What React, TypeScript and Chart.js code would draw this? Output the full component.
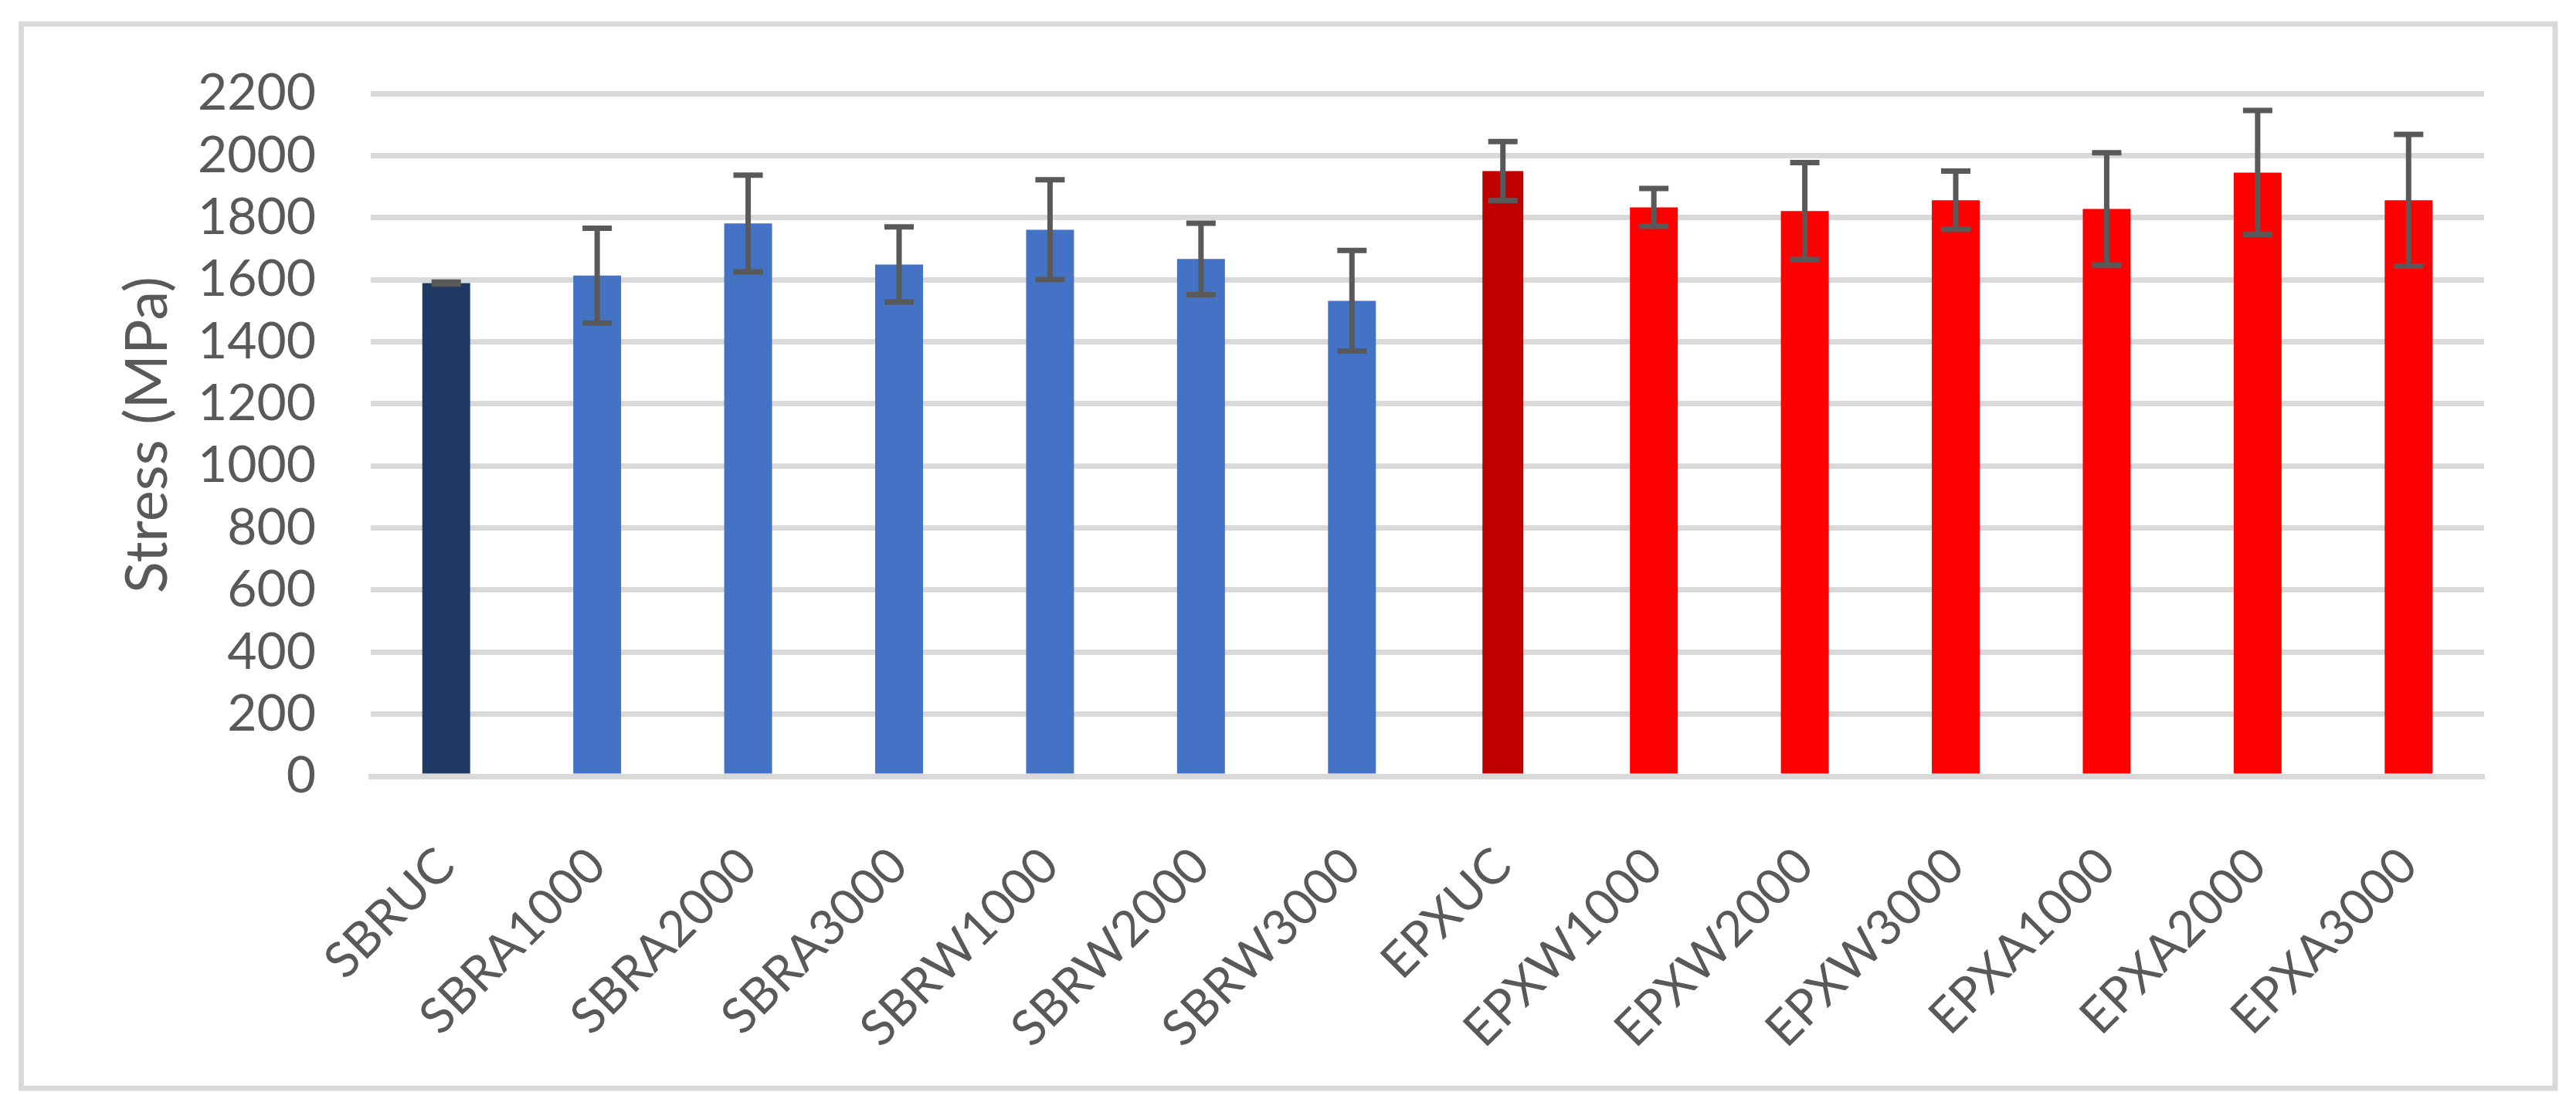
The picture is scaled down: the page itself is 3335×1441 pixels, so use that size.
import { useEffect, useRef } from "react"
import { Chart, registerables, type Plugin } from "chart.js"

Chart.register(...registerables)

const categories = [
  "SBRUC", "SBRA1000", "SBRA2000", "SBRA3000", "SBRW1000", "SBRW2000", "SBRW3000",
  "EPXUC", "EPXW1000", "EPXW2000", "EPXW3000", "EPXA1000", "EPXA2000", "EPXA3000",
]
const stress = [1589, 1613, 1781, 1649, 1761, 1667, 1532, 1950, 1833, 1821, 1856, 1828, 1945, 1856]
const stressError = [3, 153, 156, 121, 161, 115, 162, 95, 61, 156, 94, 181, 200, 212]
const barColors = [
  "#203864", "#4472C4", "#4472C4", "#4472C4", "#4472C4", "#4472C4", "#4472C4",
  "#C00000", "#FF0000", "#FF0000", "#FF0000", "#FF0000", "#FF0000", "#FF0000",
]
const yTickValues = [0, 200, 400, 600, 800, 1000, 1200, 1400, 1600, 1800, 2000, 2200]

// EPXUC is drawn a little narrower than the rest
const narrowIndex = 7

const W = 3335
const H = 1441
const TEXT = "#595959"
const GRID = "#D9D9D9"
const FONT = "Lato, 'Noto Sans', sans-serif"

const frame: Plugin<"bar"> = {
  id: "frame",
  beforeDraw(chart) {
    const { ctx } = chart
    ctx.save()
    ctx.fillStyle = "#FFFFFF"
    ctx.fillRect(0, 0, W, H)
    ctx.strokeStyle = GRID
    ctx.lineWidth = 7
    ctx.strokeRect(27.5, 31, 3308 - 27.5, 1409 - 31)
    ctx.restore()
  },
}

const errorBars: Plugin<"bar"> = {
  id: "errorBars",
  afterDatasetsDraw(chart) {
    const { ctx } = chart
    const y = chart.scales.y
    ctx.save()
    ctx.strokeStyle = TEXT
    ctx.lineWidth = 7
    ctx.lineCap = "butt"
    chart.data.datasets.forEach((ds, di) => {
      const meta = chart.getDatasetMeta(di)
      meta.data.forEach((bar, i) => {
        const v = ds.data[i] as number | null
        if (v == null) return
        const top = y.getPixelForValue(v + stressError[i])
        const bottom = y.getPixelForValue(v - stressError[i])
        const x = bar.x
        ctx.beginPath()
        ctx.moveTo(x, top)
        ctx.lineTo(x, bottom)
        ctx.moveTo(x - 19, top)
        ctx.lineTo(x + 19, top)
        ctx.moveTo(x - 19, bottom)
        ctx.lineTo(x + 19, bottom)
        ctx.stroke()
      })
    })
    ctx.restore()
  },
}

export default function App() {
  const chartRef = useRef<HTMLCanvasElement>(null)

  useEffect(() => {
    if (!chartRef.current) return
    const ctx = chartRef.current.getContext("2d")
    if (!ctx) return

    const chart = new Chart(ctx, {
      type: "bar",
      data: {
        labels: categories,
        datasets: [
          {
            data: stress.map((v, i) => (i === narrowIndex ? null : v)),
            backgroundColor: barColors,
            categoryPercentage: 1,
            barPercentage: 0.317,
            grouped: false,
          },
          {
            data: stress.map((v, i) => (i === narrowIndex ? v : null)),
            backgroundColor: barColors,
            categoryPercentage: 1,
            barPercentage: 0.271,
            grouped: false,
          },
        ],
      },
      options: {
        animation: false,
        responsive: false,
        devicePixelRatio: 1,
        layout: { padding: { top: 121, right: 119, left: 0, bottom: 0 } },
        plugins: {
          legend: { display: false },
          tooltip: { enabled: false },
        },
        scales: {
          x: {
            z: 1,
            grid: { display: false, drawTicks: false },
            border: { display: true, color: GRID, width: 7 },
            ticks: {
              autoSkip: false,
              maxRotation: 45,
              minRotation: 45,
              padding: 78,
              color: TEXT,
              font: { family: FONT, size: 64 },
            },
            afterFit: (scale) => {
              scale.height = H - 1005
            },
          },
          y: {
            min: 0,
            max: 2200,
            grid: { color: GRID, lineWidth: 7, drawTicks: false },
            border: { display: false },
            ticks: {
              autoSkip: false,
              padding: 71,
              color: TEXT,
              font: { family: FONT, size: 66 },
              callback: (value) => String(value),
            },
            afterBuildTicks: (scale) => {
              scale.ticks = yTickValues.map((value) => ({ value }))
            },
            afterFit: (scale) => {
              scale.width = 480
            },
            title: {
              display: true,
              text: "Stress (MPa)",
              color: TEXT,
              font: { family: FONT, size: 76, weight: "normal" },
              padding: { top: 146, bottom: 0 },
            },
          },
        },
      },
      plugins: [frame, errorBars],
    })

    return () => chart.destroy()
  }, [])

  return (
    <div style={{ position: "absolute", left: 0, top: 0, width: W, height: H, background: "#fff" }}>
      <canvas ref={chartRef} width={W} height={H} style={{ width: W, height: H, display: "block" }} />
    </div>
  )
}
